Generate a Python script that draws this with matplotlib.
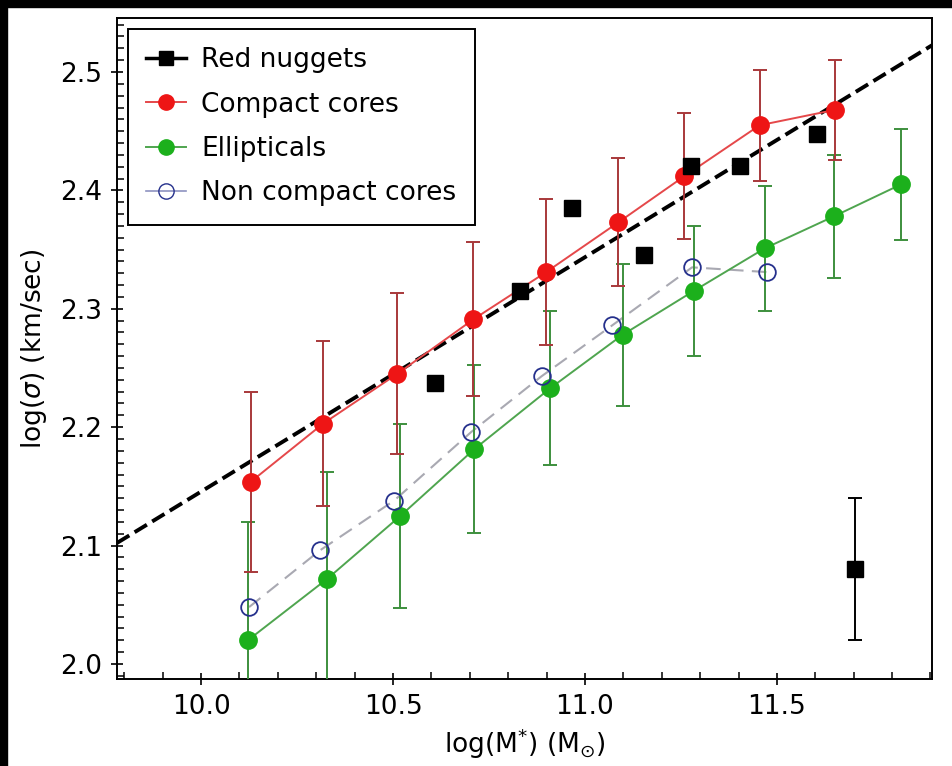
import numpy as np
import matplotlib
matplotlib.use('Agg')
import matplotlib.pyplot as plt
from matplotlib.lines import Line2D
from matplotlib.patches import Rectangle
from matplotlib.ticker import MultipleLocator

# red nuggets (single objects)
nug_mass = [10.61, 10.832, 10.967, 11.155, 11.275, 11.405, 11.604]
nug_sigma = [2.237, 2.315, 2.385, 2.345, 2.421, 2.421, 2.448]
# typical error of a nugget
err_mass = [11.703]
err_sigma = [2.080]
err_size = [0.06]

# compact cores, binned
cc_mass = [10.130, 10.318, 10.511, 10.709, 10.899, 11.087, 11.259, 11.455, 11.651]
cc_sigma = [2.154, 2.203, 2.245, 2.291, 2.331, 2.373, 2.412, 2.455, 2.468]
cc_err = [0.076, 0.070, 0.068, 0.065, 0.062, 0.054, 0.053, 0.047, 0.042]

# ellipticals, binned
ell_mass = [10.122, 10.329, 10.519, 10.712, 10.910, 11.098, 11.283, 11.468, 11.648, 11.823]
ell_sigma = [2.020, 2.072, 2.125, 2.1815, 2.233, 2.278, 2.315, 2.351, 2.378, 2.405]
ell_err = [0.10, 0.09, 0.078, 0.071, 0.065, 0.060, 0.055, 0.053, 0.052, 0.047]

# non compact cores
ncc_mass = [10.125, 10.310, 10.503, 10.704, 10.887, 11.071, 11.279, 11.473]
ncc_sigma = [2.048, 2.096, 2.138, 2.196, 2.243, 2.286, 2.335, 2.331]

# local relation (dashed line)
fit_point = (9.78, 2.102)
fit_slope = 0.198

fig = plt.figure(figsize=(9.52, 7.66), dpi=100)
ax = fig.add_axes([0.1229, 0.1136, 0.979 - 0.1229, 0.9765 - 0.1136])

ax.axline(fit_point, slope=fit_slope, color='k', ls='--', lw=2.8, zorder=2)

ax.plot(ncc_mass, ncc_sigma, ls=(0, (7, 4)), color='#a9a9b2', lw=1.5, zorder=3)
ax.plot(ncc_mass, ncc_sigma, 'o', mfc='none', mec='#25308c', mew=1.3, ms=12, zorder=6)

ax.errorbar(ell_mass, ell_sigma, yerr=ell_err, fmt='none', ecolor='#3d8f3d',
            elinewidth=1.4, capsize=5, capthick=1.4, zorder=3)
ax.plot(ell_mass, ell_sigma, '-', color='#4fa54f', lw=1.4, zorder=4)
ax.plot(ell_mass, ell_sigma, 'o', color='#1cb01c', ms=12.5, zorder=5)

ax.errorbar(cc_mass, cc_sigma, yerr=cc_err, fmt='none', ecolor='#a8383a',
            elinewidth=1.4, capsize=5, capthick=1.4, zorder=3)
ax.plot(cc_mass, cc_sigma, '-', color='#e5484a', lw=1.4, zorder=4)
ax.plot(cc_mass, cc_sigma, 'o', color='#ee1515', ms=12.5, zorder=5)

ax.plot(nug_mass, nug_sigma, 's', color='k', ms=11.5, zorder=5)
ax.errorbar(err_mass, err_sigma, yerr=err_size, fmt='s', color='k', ms=11.5,
            elinewidth=1.4, capsize=5, capthick=1.4, zorder=5)

ax.set_xlim(9.781, 11.904)
ax.set_ylim(1.9873, 2.5456)
ax.xaxis.set_major_locator(MultipleLocator(0.5))
ax.xaxis.set_minor_locator(MultipleLocator(0.1))
ax.yaxis.set_major_locator(MultipleLocator(0.1))
ax.yaxis.set_minor_locator(MultipleLocator(0.01))
ax.tick_params(which='major', direction='inout', length=9, width=1.2,
               labelsize=19, top=False, right=False, pad=6)
ax.tick_params(which='minor', direction='in', length=5, width=1.1,
               top=False, right=False)
for sp in ax.spines.values():
    sp.set_linewidth(1.4)

ax.set_xlabel(r'log(M$^{*}$) (M$_{\odot}$)', fontsize=19, labelpad=5)
ax.set_ylabel(r'log($\sigma$) (km/sec)', fontsize=19, labelpad=8)

handles = [
    Line2D([], [], color='k', lw=2.5, marker='s', ms=10),
    Line2D([], [], color='#e5484a', lw=1.4, marker='o', mfc='#ee1515', mec='#ee1515', ms=11),
    Line2D([], [], color='#4fa54f', lw=1.4, marker='o', mfc='#1cb01c', mec='#1cb01c', ms=11),
    Line2D([], [], color='#8d92c0', lw=1.2, marker='o', mfc='none', mec='#25308c', ms=11),
]
labels = ['Red nuggets', 'Compact cores', 'Ellipticals', 'Non compact cores']
leg = ax.legend(handles, labels, loc='upper left', fontsize=19, fancybox=False,
                framealpha=1, edgecolor='k', handlelength=1.5, handletextpad=0.6,
                borderaxespad=0.4, labelspacing=0.7, borderpad=0.7)
leg.get_frame().set_linewidth(1.4)

# dark strips along the top and left edge of the image
fig.add_artist(Rectangle((0, 1 - 7 / 766), 1, 7 / 766, transform=fig.transFigure,
                         color='black', zorder=10))
fig.add_artist(Rectangle((0, 0), 7 / 952, 1, transform=fig.transFigure,
                         color='black', zorder=10))

fig.savefig('out.png', dpi=100)
